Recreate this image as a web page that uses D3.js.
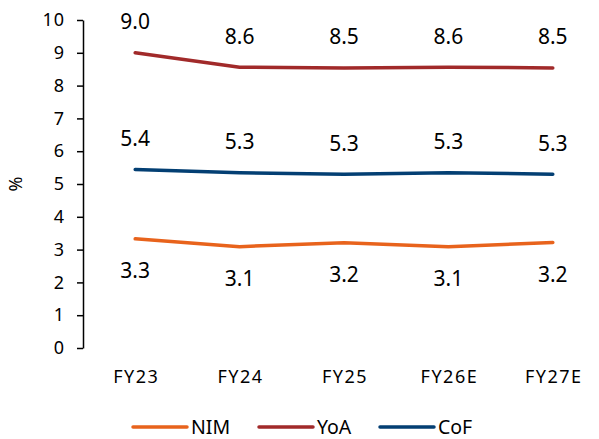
<!DOCTYPE html>
<html>
<head>
<meta charset="utf-8">
<script src="https://cdn.jsdelivr.net/npm/d3@7"></script>
<style>
  html, body { margin: 0; padding: 0; background: #fff; }
  svg text { font-family: "Noto Sans", sans-serif; fill: #000; }
</style>
</head>
<body>
<svg id="chart" width="599" height="439"></svg>
<script>
// Fiscal years on the x axis
const categories = ["FY23", "FY24", "FY25", "FY26E", "FY27E"];
// Net interest margin, yield on advances, cost of funds (%)
const nim = [3.33, 3.09, 3.21, 3.09, 3.22];
const yoa = [9.0, 8.56, 8.54, 8.56, 8.54];
const cof = [5.44, 5.34, 5.30, 5.34, 5.30];
const yTicks = [0, 1, 2, 3, 4, 5, 6, 7, 8, 9, 10];

const seriesList = [
  { name: "NIM", values: nim, color: "#E8631C", labelPos: "below" },
  { name: "YoA", values: yoa, color: "#A12A2A", labelPos: "above" },
  { name: "CoF", values: cof, color: "#033F73", labelPos: "above" }
];

const svg = d3.select("#chart");
const margin = { left: 83, top: 20, bottom: 91 };
const plotW = 522;
const plotH = 439 - margin.top - margin.bottom;

const x = d3.scaleBand().domain(categories).range([margin.left, margin.left + plotW]);
const y = d3.scaleLinear().domain([0, 10]).range([margin.top + plotH, margin.top]);
const cx = d => x(d) + x.bandwidth() / 2;

// y axis
const yAxis = svg.append("g")
  .attr("transform", `translate(${margin.left},0)`)
  .call(d3.axisLeft(y).tickValues(yTicks).tickSize(6).tickSizeOuter(0).tickPadding(12));
yAxis.select(".domain").attr("stroke", "#000").attr("stroke-width", 1.5);
yAxis.selectAll(".tick line").attr("stroke", "#000").attr("stroke-width", 1.5);
yAxis.selectAll(".tick text")
  .style("font-size", "18px")
  .style("letter-spacing", "1px");

// y axis title
svg.append("text")
  .attr("transform", `translate(16,${y(5)}) rotate(-90)`)
  .attr("text-anchor", "middle")
  .attr("dy", "0.35em")
  .style("font-size", "18px")
  .text("%");

// category labels
svg.append("g").selectAll("text")
  .data(categories)
  .join("text")
  .attr("x", d => cx(d) + 1)
  .attr("y", 377)
  .attr("text-anchor", "middle")
  .attr("dy", "0.35em")
  .style("font-size", "18px")
  .style("letter-spacing", "1.5px")
  .text(d => d);

// lines
const line = d3.line()
  .x((v, i) => cx(categories[i]))
  .y(v => y(v));

seriesList.forEach(s => {
  svg.append("path")
    .datum(s.values)
    .attr("fill", "none")
    .attr("stroke", s.color)
    .attr("stroke-width", 3.5)
    .attr("stroke-linecap", "round")
    .attr("stroke-linejoin", "round")
    .attr("d", line);

  svg.append("g").selectAll("text")
    .data(s.values)
    .join("text")
    .attr("x", (v, i) => cx(categories[i]))
    .attr("y", v => y(v) + (s.labelPos === "above" ? -31 : 32))
    .attr("text-anchor", "middle")
    .attr("dy", "0.35em")
    .style("font-size", "21px")
    .text(v => d3.format(".1f")(v));
});

// legend
const legendX = [133, 259, 380];
const legend = svg.append("g");
seriesList.forEach((s, i) => {
  const g = legend.append("g").attr("transform", `translate(${legendX[i]},427)`);
  g.append("line")
    .attr("x1", 0).attr("x2", 54).attr("y1", 0).attr("y2", 0)
    .attr("stroke", s.color).attr("stroke-width", 3.5).attr("stroke-linecap", "round");
  g.append("text")
    .attr("x", 58).attr("y", 0).attr("dy", "0.35em")
    .style("font-size", "19.5px")
    .text(s.name);
});
</script>
</body>
</html>
